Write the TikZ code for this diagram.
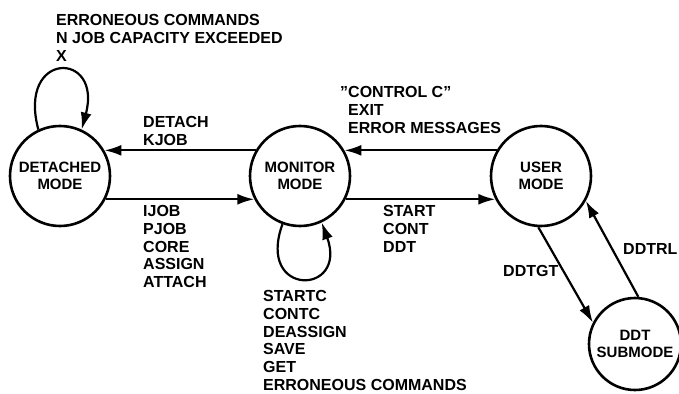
\documentclass[tikz,border=0pt]{standalone}
\usepackage{fontspec}
\setmainfont{Liberation Sans}
\usepackage{tikz}
\usetikzlibrary{arrows.meta}

\begin{document}
\begin{tikzpicture}[x=1pt,y=1pt]
        \useasboundingbox (0,0) rectangle (679,-393);
        \begin{scope}[every node/.style={line width=2.6pt,draw,circle,minimum size=100pt,inner sep=0pt,align=center,font=\bfseries\fontsize{15}{16.5}\selectfont}]
          \node (det) at (60,-176) {DETACHED\\MODE};
          \node (mon) at (300,-176) {MONITOR\\MODE};
          \node (usr) at (541,-176) {USER\\MODE};
          \node[minimum size=92pt] (ddt) at (635,-344) {DDT\\SUBMODE};
        \end{scope}
        \begin{scope}[every edge/.style={draw=black,line width=2.2pt,-{Latex[length=17pt,width=11pt]}}]
          \path (det.115) edge[out=105,in=75,distance=82pt] (det.65);
          \path (mon.150) edge (det.30);
          \path (det.333) edge (mon.207);
          \path (usr.150) edge (mon.30);
          \path (mon.333) edge (usr.207);
          \path (mon.250) edge[out=250,in=290,distance=78pt] (mon.295);
          \path (usr.267) edge (ddt.153);
          \path (ddt.86) edge (usr.331);
        \end{scope}
        \begin{scope}[every node/.style={anchor=north west,inner sep=0pt,align=left,font=\bfseries\fontsize{16}{17.7}\selectfont}]
          \node (errdet) at (56,-14.5) {ERRONEOUS COMMANDS\\N JOB CAPACITY EXCEEDED\\X};
          \node (kjob) at (143,-116.5) {DETACH\\KJOB};
          \node (attach) at (143,-205.5) {IJOB\\PJOB\\CORE\\ASSIGN\\ATTACH};
          \node (ctrlc) at (348,-86.5) {\llap{\char34}CONTROL C\char34\\EXIT\\ERROR MESSAGES};
          \node (start) at (383,-205.5) {START\\CONT\\DDT};
          \node (startc) at (263,-290.5) {STARTC\\CONTC\\DEASSIGN\\SAVE\\GET\\ERRONEOUS COMMANDS};
          \node (ddtgt) at (503,-265.5) {DDTGT};
          \node (ddtrl) at (623,-243.5) {DDTRL};
        \end{scope}
      \end{tikzpicture}
\end{document}
